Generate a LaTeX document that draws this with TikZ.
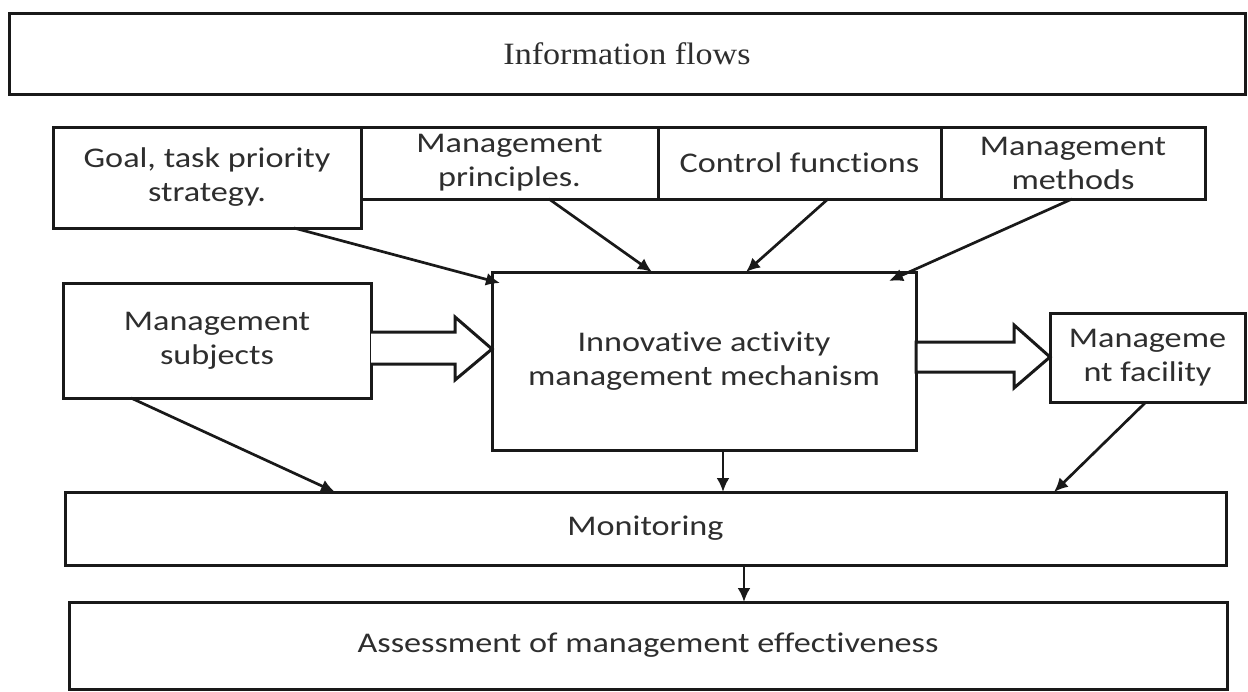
\documentclass[tikz,border=0pt]{standalone}
\usepackage{fontspec}
\setmainfont{Liberation Serif}
\newfontfamily\boxfont{Carlito}[FakeStretch=1.2,Ligatures=NoCommon]
\newfontfamily\serifstretch{Liberation Serif}[FakeStretch=1.1]
\usetikzlibrary{arrows.meta,calc}
\begin{document}
\begin{tikzpicture}[x=1pt,y=-1pt,
  every node/.style={inner sep=0pt,outer sep=0pt},
  box/.style={draw=black!90,line width=3pt,fill=white,align=center,text=black!82,
    font=\boxfont\fontsize{28.5}{34}\selectfont},
  arr/.style={draw=black!90,line width=2.7pt,-{Latex[length=14pt,width=13pt]}},
  hollow/.style={draw=black!90,line width=3pt,fill=white,line join=miter}
]
\useasboundingbox[fill=white] (0,0) rectangle (1248,691);
% boxes
\node[box,minimum width=1236pt,minimum height=81pt,font=\serifstretch\fontsize{31}{34}\selectfont] (info) at (627,53.5) {Information flows};
\node[box,minimum width=308pt,minimum height=101pt] (goal) at (207,177.5) {Goal, task priority\\strategy.};
\node[box,minimum width=297pt,minimum height=72pt] (princ) at (509.5,163) {Management\\principles.};
\node[box,minimum width=283pt,minimum height=72pt] (ctrl) at (799.5,163) {Control functions};
\node[box,minimum width=264pt,minimum height=72pt] (meth) at (1073,163) {Management\\methods};
\node[box,minimum width=308pt,minimum height=115pt] (subj) at (217,340.5) {Management\\subjects};
\node[box,minimum width=424pt,minimum height=178pt] (cent) at (704,361) {Innovative activity\\management mechanism};
\node[box,minimum width=195pt,minimum height=89pt] (fac) at (1147.5,357.5) {Manageme\\nt facility};
\node[box,minimum width=1161pt,minimum height=73pt] (mon) at (645.5,528.5) {Monitoring};
\node[box,minimum width=1158pt,minimum height=87pt] (asm) at (648,645.5) {Assessment of management effectiveness};
% hollow arrows
\draw[hollow] (subj.east |- 0,332) -- (455,332) -- (455,317) -- (cent.west |- 0,349) -- (455,380) -- (455,364) -- (subj.east |- 0,364);
\draw[hollow] (cent.east |- 0,342) -- (1014,342) -- (1014,325) -- (fac.west |- 0,357) -- (1014,388) -- (1014,372) -- (cent.east |- 0,372) -- cycle;
% arrows
\draw[arr] ([xshift=87pt]goal.south) -- ([xshift=8pt,yshift=-11pt]cent.north west);
\draw[arr] ([xshift=39.5pt]princ.south) -- ([xshift=-52pt]cent.north);
\draw[arr] ([xshift=28.5pt]ctrl.south) -- ([xshift=42pt]cent.north);
\draw[arr] ([xshift=-1pt]meth.south) -- ([xshift=-27pt,yshift=-9pt]cent.north east);
\draw[arr] ([xshift=-86pt]subj.south) -- ([xshift=-310.5pt]mon.north);
\draw[arr] ([xshift=19pt]cent.south) -- ([xshift=19pt]cent.south |- mon.north);
\draw[arr] ([xshift=-1.5pt]fac.south) -- ([xshift=408.5pt]mon.north);
\draw[arr] ([xshift=98.5pt]mon.south) -- ([xshift=98.5pt]mon.south |- asm.north);
\end{tikzpicture}
\end{document}
